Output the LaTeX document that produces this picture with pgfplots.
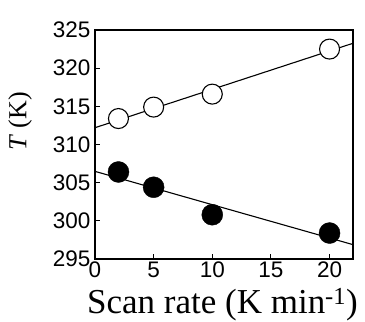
\documentclass[border=0pt]{standalone}
\usepackage{pgfplots}
\pgfplotsset{compat=1.18}
\usepackage{fontspec}
\setmainfont{Liberation Serif}
\newfontfamily\arialf{Liberation Sans}
\begin{document}
\begin{tikzpicture}
\begin{axis}[
  scale only axis,
  width=258pt, height=229pt,
  xmin=0, xmax=22, ymin=295, ymax=325,
  xtick={0,5,10,15,20}, ytick={295,300,...,325},
  tick align=inside, xtick pos=bottom, ytick pos=left,
  major tick length=5pt,
  axis line style={line width=1.3pt},
  every tick/.style={black, line width=1pt},
  /pgf/number format/assume math mode=true,
  tick label style={font=\arialf\fontsize{22.5}{22.5}\selectfont},
  xticklabel style={yshift=-2pt, inner sep=1pt},
  yticklabel style={xshift=-1pt},
  xlabel={Scan rate (K min\textsuperscript{-1})},
  ylabel={\textit{T} (K)},
  xlabel style={font=\fontsize{35}{35}\selectfont, at={(axis description cs:0.494,-0.236)}, anchor=base, inner sep=0pt},
  ylabel style={font=\fontsize{26}{26}\selectfont, at={(axis description cs:-0.29,0.6)}, anchor=center, rotate=0},
  clip=false,
]
\addplot[black, line width=1.1pt] coordinates {(0,312.2) (22,323.26)};
\addplot[black, line width=1.1pt] coordinates {(0,306.48) (22,296.88)};
\addplot[only marks, mark=*, mark size=10pt, mark options={fill=white, draw=black, line width=1.1pt}] coordinates {
(2,313.4) (5,314.9) (10,316.6) (20,322.5)};
\addplot[only marks, mark=*, mark size=10.5pt, mark options={fill=black, draw=black}] coordinates {
(2,306.4) (5,304.4) (10,300.8) (20,298.4)};
\end{axis}
\path ([xshift=-95pt,yshift=-63pt]current axis.south west) rectangle ([xshift=12pt,yshift=30pt]current axis.north east);
\end{tikzpicture}
\end{document}
